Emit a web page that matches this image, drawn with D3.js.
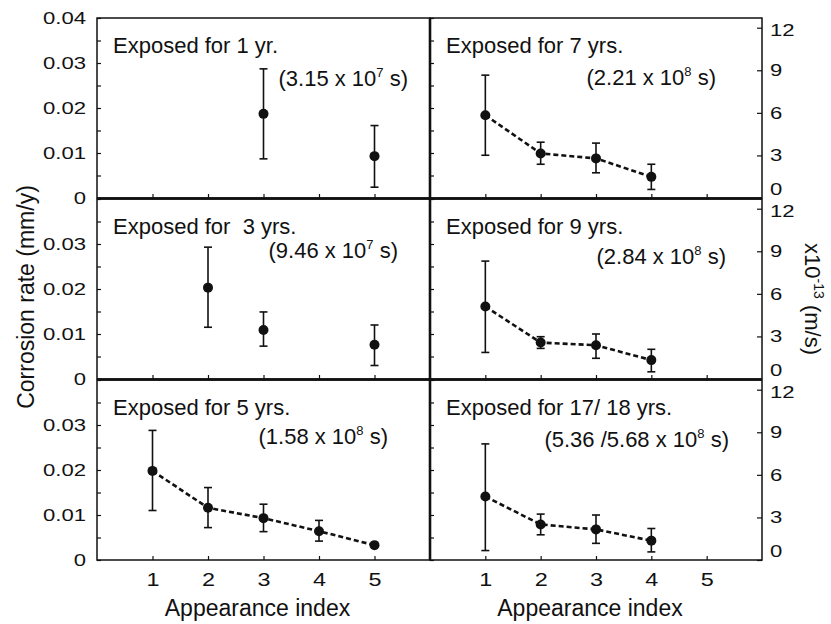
<!DOCTYPE html>
<html>
<head>
<meta charset="utf-8">
<script src="https://cdn.jsdelivr.net/npm/d3@7"></script>
<style>
  body { margin: 0; background: #fff; }
  svg { display: block; font-family: "Liberation Sans", Arial, sans-serif; }
  text { fill: #111; }
</style>
</head>
<body>
<svg id="chart" width="831" height="624"></svg>
<script>
// ---- data ----
const panelTitles = [
  "Exposed for 1 yr.",
  "Exposed for  3 yrs.",
  "Exposed for 5 yrs.",
  "Exposed for 7 yrs.",
  "Exposed for 9 yrs.",
  "Exposed for 17/ 18 yrs."
];
// [before superscript, exponent, after]
const panelTimes = [
  ["(3.15 x 10", "7", " s)"],
  ["(9.46 x 10", "7", " s)"],
  ["(1.58 x 10", "8", " s)"],
  ["(2.21 x 10", "8", " s)"],
  ["(2.84 x 10", "8", " s)"],
  ["(5.36 /5.68 x 10", "8", " s)"]
];

const appearance = [
  [3, 5],
  [2, 3, 5],
  [1, 2, 3, 4, 5],
  [1, 2, 3, 4],
  [1, 2, 3, 4],
  [1, 2, 3, 4]
];
// corrosion rate, mm/y
const rates = [
  [0.0187, 0.0093],
  [0.0203, 0.0109, 0.0076],
  [0.0198, 0.0116, 0.0093, 0.0064, 0.0033],
  [0.0184, 0.0099, 0.0088, 0.0047],
  [0.0161, 0.0081, 0.0075, 0.0042],
  [0.0141, 0.0079, 0.0068, 0.0043]
];
const errHigh = [
  [0.0287, 0.0161],
  [0.0293, 0.0149, 0.0120],
  [0.0288, 0.0161, 0.0124, 0.0088, null],
  [0.0273, 0.0124, 0.0122, 0.0075],
  [0.0262, 0.0094, 0.0100, 0.0066],
  [0.0258, 0.0102, 0.0100, 0.0070]
];
const errLow = [
  [0.0087, 0.0024],
  [0.0115, 0.0073, 0.0030],
  [0.0110, 0.0072, 0.0063, 0.0042, null],
  [0.0095, 0.0075, 0.0056, 0.0019],
  [0.0059, 0.0068, 0.0046, 0.0016],
  [0.0021, 0.0056, 0.0037, 0.0018]
];
const connected = [false, false, true, true, true, true];

const xTickValues = [1, 2, 3, 4, 5];
const rightTickValues = [0, 3, 6, 9, 12];
const mmyPerUnit = 0.0031536; // 1e-13 m/s expressed in mm/y

// ---- layout ----
const svg = d3.select("#chart");
const colX = [[97, 430], [430, 762]];
const rowTop = [18, 199, 380];
const rowH = 180;
const subDy = [68, 59, 64, 67, 65, 67];
const subRight = [22, 32, 42, 46, 36, 33];
const stretch = 1.3;

function stretchText(sel, size) {
  sel.selectAll("text")
    .attr("font-size", size)
    .attr("fill", "#111")
    .attr("font-family", "Liberation Sans, Arial, sans-serif")
    .each(function () {
      const t = d3.select(this);
      const x = +t.attr("x") || 0;
      t.attr("x", x / stretch).attr("transform", `scale(${stretch},1)`);
    });
}

d3.range(6).forEach(p => {
  const col = p < 3 ? 0 : 1;
  const row = p % 3;
  const x = d3.scaleLinear().domain([0, 6]).range(colX[col]);
  const y = d3.scaleLinear().domain([0, 0.04]).range([rowTop[row] + rowH, rowTop[row]]);
  const g = svg.append("g");

  // frame
  g.append("rect")
    .attr("x", colX[col][0]).attr("y", rowTop[row])
    .attr("width", colX[col][1] - colX[col][0]).attr("height", rowH)
    .attr("fill", "none").attr("stroke", "#111").attr("stroke-width", 1.5);

  // left axis
  const leftAxis = d3.axisLeft(y)
    .tickValues(y.ticks(8))
    .tickSize(-4)
    .tickPadding(11)
    .tickFormat(v => {
      if (col === 1) return "";
      const k = Math.round(v * 1000);
      if (k % 10 !== 0) return "";
      if (k === 40 && row !== 0) return "";
      return k === 0 ? "0" : v.toFixed(2);
    });
  const la = g.append("g").attr("transform", `translate(${colX[col][0]},0)`).call(leftAxis);
  la.select(".domain").remove();
  la.selectAll("line").attr("stroke", "#111").attr("stroke-width", 1.2);
  stretchText(la, 17);

  // right axis (x10^-13 m/s)
  if (col === 1) {
    const yR = d3.scaleLinear().domain([0, 0.04 / mmyPerUnit]).range(y.range());
    const ra = g.append("g").attr("transform", `translate(${colX[col][1]},0)`)
      .call(d3.axisRight(yR).tickValues(rightTickValues).tickSize(-5).tickPadding(8));
    ra.select(".domain").remove();
    ra.selectAll("line").attr("stroke", "#111").attr("stroke-width", 1.2);
    stretchText(ra, 17);
    ra.selectAll("text").filter(d => d === 0).attr("dy", "-0.2em");
    ra.selectAll("text").filter(d => d === 12).attr("dy", "0.45em");
  }

  // bottom axis
  const ba = g.append("g").attr("transform", `translate(0,${y(0)})`)
    .call(d3.axisBottom(x).tickValues(xTickValues).tickSize(-4).tickPadding(13)
      .tickFormat(row === 2 ? d3.format("d") : () => ""));
  ba.select(".domain").remove();
  ba.selectAll("line").attr("stroke", "#111").attr("stroke-width", 1.2);
  stretchText(ba, 18);

  // titles
  g.append("text")
    .attr("x", colX[col][0] + 16).attr("y", rowTop[row] + 35)
    .attr("font-size", 22).style("white-space", "pre")
    .text(panelTitles[p]);
  const sub = g.append("text")
    .attr("x", colX[col][1] - subRight[p]).attr("y", rowTop[row] + subDy[p])
    .attr("font-size", 22).attr("text-anchor", "end").style("white-space", "pre");
  sub.append("tspan").text(panelTimes[p][0]);
  sub.append("tspan").attr("font-size", 13).attr("dy", -9).text(panelTimes[p][1]);
  sub.append("tspan").attr("dy", 9).text(panelTimes[p][2]);

  // data
  const pts = appearance[p].map((a, i) => ({ a, v: rates[p][i], hi: errHigh[p][i], lo: errLow[p][i] }));

  if (connected[p]) {
    g.append("path")
      .attr("d", d3.line().x(d => x(d.a)).y(d => y(d.v))(pts))
      .attr("fill", "none").attr("stroke", "#111")
      .attr("stroke-width", 2.6).attr("stroke-dasharray", "5,3");
  }

  const eb = g.append("g").attr("stroke", "#111").attr("stroke-width", 1.6);
  pts.filter(d => d.hi != null).forEach(d => {
    eb.append("line").attr("x1", x(d.a)).attr("x2", x(d.a)).attr("y1", y(d.lo)).attr("y2", y(d.hi));
    eb.append("line").attr("x1", x(d.a) - 4).attr("x2", x(d.a) + 4).attr("y1", y(d.hi)).attr("y2", y(d.hi));
    eb.append("line").attr("x1", x(d.a) - 4).attr("x2", x(d.a) + 4).attr("y1", y(d.lo)).attr("y2", y(d.lo));
  });

  g.selectAll("circle.pt").data(pts).join("circle")
    .attr("class", "pt")
    .attr("cx", d => x(d.a)).attr("cy", d => y(d.v)).attr("r", 5)
    .attr("fill", "#111");

  // axis caption under bottom row
  if (row === 2) {
    g.append("text")
      .attr("x", (colX[col][0] + colX[col][1]) / 2 - 6).attr("y", 616)
      .attr("text-anchor", "middle").attr("font-size", 23)
      .text("Appearance index");
  }
});

// heavy separators between panels
const sep = svg.append("g").attr("stroke", "#111").attr("stroke-width", 2.6);
sep.append("line").attr("x1", 430).attr("x2", 430).attr("y1", rowTop[0]).attr("y2", rowTop[2] + rowH);
[198.5, 379.5].forEach(yy => {
  sep.append("line").attr("x1", colX[0][0]).attr("x2", colX[1][1]).attr("y1", yy).attr("y2", yy);
});

// axis titles
svg.append("text")
  .attr("transform", "translate(34,297) rotate(-90)")
  .attr("text-anchor", "middle").attr("font-size", 23)
  .text("Corrosion rate (mm/y)");

const rt = svg.append("text")
  .attr("transform", "translate(805,299) rotate(90)")
  .attr("text-anchor", "middle").attr("font-size", 22);
rt.append("tspan").text("x10");
rt.append("tspan").attr("font-size", 14).attr("dy", -9).text("-13");
rt.append("tspan").attr("dy", 9).text(" (m/s)");
</script>
</body>
</html>
